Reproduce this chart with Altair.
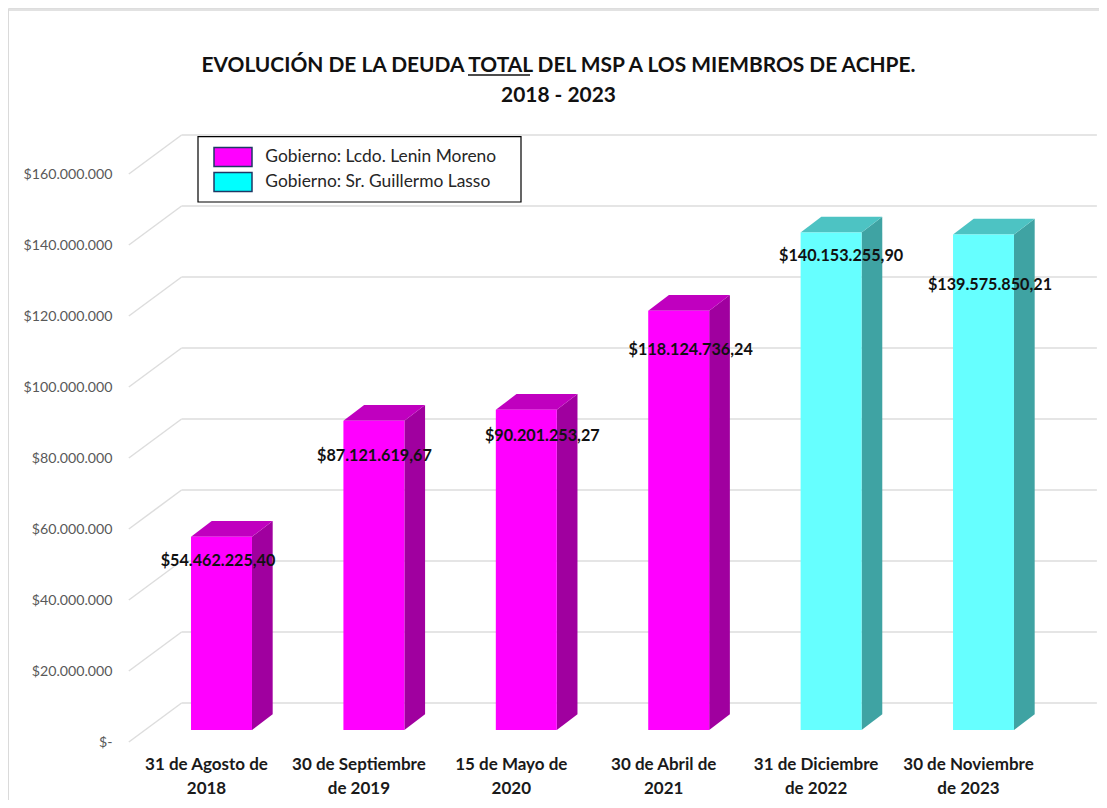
import json
import altair as alt
import pandas as pd

# ---- data
dates = ["31 de Agosto de|2018", "30 de Septiembre|de 2019", "15 de Mayo de|2020",
         "30 de Abril de|2021", "31 de Diciembre|de 2022", "30 de Noviembre|de 2023"]
values = [54462225.40, 87121619.67, 90201253.27, 118124736.24, 140153255.90, 139575850.21]
value_labels = ["$54.462.225,40", "$87.121.619,67", "$90.201.253,27",
                "$118.124.736,24", "$140.153.255,90", "$139.575.850,21"]
governments = ["Gobierno: Lcdo. Lenin Moreno"] * 4 + ["Gobierno: Sr. Guillermo Lasso"] * 2
gov_names = ["Gobierno: Lcdo. Lenin Moreno", "Gobierno: Sr. Guillermo Lasso"]
y_ticks = [0, 20e6, 40e6, 60e6, 80e6, 100e6, 120e6, 140e6, 160e6]
y_tick_labels = ["$-", "$20.000.000", "$40.000.000", "$60.000.000", "$80.000.000",
                 "$100.000.000", "$120.000.000", "$140.000.000", "$160.000.000"]

# ---- layout (separate from the data)
W, H = 1091, 792
PX_PER_UNIT = 152.4            # px between bars
PX_PER_VALUE = 3.55 / 1e6      # px per dollar
X0_PAGE, Y0_PAGE = 221.5, 730  # first bar centre / bar base on the page
HALF = 0.2                     # half bar width (category units)
DX = 20.7 / PX_PER_UNIT        # depth of the 3-D box
DY = 15.7 / PX_PER_VALUE
WALL_DX_L, WALL_DX_R = -0.262, 5.744
FRONT_X = -0.608
WALL_DY = 27 / PX_PER_VALUE
FRONT_DY = -12 / PX_PER_VALUE
LABEL_DX = [-3.5, 0.5, 16, 12, 10, 6.5]     # px from bar centre
LABEL_DY = [24.3, 35.3, 26.2, 39.4, 23.5, 50.5]  # px below bar top

x_dom = [(8 - X0_PAGE) / PX_PER_UNIT, (8 + W - X0_PAGE) / PX_PER_UNIT]
y_dom = [(Y0_PAGE - (8 + H)) / PX_PER_VALUE, (Y0_PAGE - 8) / PX_PER_VALUE]
x_scale = alt.Scale(domain=x_dom, nice=False, zero=False)
y_scale = alt.Scale(domain=y_dom, nice=False, zero=False)

FONT = "Lato"
TOPC = ["#C000BF", "#4DC3C3"]
SIDEC = ["#A0009F", "#3FA3A3"]
FRONTC = ["#FF00FF", "#66FFFF"]
LEGC = ["#FF00FF", "#00FFFF"]

# ---- tables
bars = pd.DataFrame({
    "i": range(len(values)), "v": values, "gov": governments, "label": value_labels,
})
bars["x0"] = bars.i - HALF
bars["x1"] = bars.i + HALF
bars["zero"] = 0.0
bars["lx"] = [i + d / PX_PER_UNIT for i, d in zip(bars.i, LABEL_DX)]
bars["ly"] = [v - d / PX_PER_VALUE for v, d in zip(values, LABEL_DY)]

side_rows, top_rows = [], []
for i, v, g in zip(bars.i, values, governments):
    side_rows += [dict(i=i, gov=g, x=i + HALF, y=0.0, y2=v),
                  dict(i=i, gov=g, x=i + HALF + DX, y=DY, y2=v + DY)]
    top_rows += [dict(i=i, gov=g, x=i - HALF, y=v, y2=v),
                 dict(i=i, gov=g, x=i - HALF + DX, y=v, y2=v + DY),
                 dict(i=i, gov=g, x=i + HALF, y=v, y2=v + DY),
                 dict(i=i, gov=g, x=i + HALF + DX, y=v + DY, y2=v + DY)]
side = pd.DataFrame(side_rows)
top = pd.DataFrame(top_rows)
grid = pd.DataFrame({"t": y_ticks})
grid["wy"] = grid.t + WALL_DY
grid["fy"] = grid.t + FRONT_DY
grid["xl"] = WALL_DX_L
grid["xr"] = WALL_DX_R
grid["xf"] = FRONT_X

GRID = "#DDDDDD"
tick_expr = json.dumps(y_tick_labels) + "[round(datum.value/20000000)]"
date_expr = "split(" + json.dumps(dates) + "[datum.value],'|')"

x_axis = alt.Axis(values=list(range(6)), labelExpr=date_expr, title=None, grid=False,
                  domain=False, ticks=False, labelFont=FONT, labelFontSize=17,
                  labelFontWeight="bold", labelColor="#1a1a1a", labelOffset=-15.5,
                  offset=-(8 + H - 756.5), labelPadding=0, labelBaseline="top", labelLineHeight=24,
                  labelAngle=0, labelFlush=False, labelOverlap=False)
y_axis = alt.Axis(values=y_ticks, labelExpr=tick_expr, title=None, grid=False,
                  domain=False, ticks=False, labelFont=FONT, labelFontSize=14.2,
                  labelColor="#595959", labelOffset=12.5, offset=-104, labelPadding=0,
                  labelOverlap=False, labelFlush=False)


def X(f):
    return alt.X(f, scale=x_scale, axis=x_axis)


def Y(f):
    return alt.Y(f, scale=y_scale, axis=y_axis)


wall = alt.Chart(grid).mark_rule(color=GRID, strokeWidth=1.5).encode(
    x=X("xl:Q"), x2="xr:Q", y=Y("wy:Q"),
)
diag = alt.Chart(grid).mark_rule(color=GRID, strokeWidth=1.5).encode(
    x=X("xf:Q"), x2="xl:Q", y=Y("fy:Q"), y2="wy:Q",
)

border = alt.Chart(grid.head(1)).mark_rule(color="#D9D9D9", strokeWidth=1.5).encode(
    x=alt.value(0), x2=alt.value(W), y=alt.value(2))
border2 = alt.Chart(grid.head(1)).mark_rule(color="#D9D9D9", strokeWidth=1.5).encode(
    x=alt.value(0), y=alt.value(2), y2=alt.value(H))

frame = alt.Chart(grid.head(1)).mark_rect(fill="white", stroke="black", strokeWidth=1.2).encode(
    x=alt.value(190), x2=alt.value(513), y=alt.value(128.7), y2=alt.value(194))

underline = alt.Chart(grid.head(1)).mark_rule(color="#111111", strokeWidth=1.5).encode(
    x=alt.value(460), x2=alt.value(522), y=alt.value(67))


def gov_color(rng, legend=None):
    return alt.Color("gov:N", scale=alt.Scale(domain=gov_names, range=rng), legend=legend)


legend_layer = alt.Chart(bars).transform_filter("datum.v < 0").mark_square(
    filled=True, stroke="#1F3864", strokeWidth=3, opacity=1).encode(
    x=X("i:Q"), y=Y("v:Q"),
    color=gov_color(LEGC, alt.Legend(
        orient="none", legendX=214.5, legendY=138.5, title=None,
        symbolType="M-2,-1H2V1H-2Z", symbolSize=361,
        labelFont=FONT, labelFontSize=17.4, labelColor="#262626",
        labelOffset=21.8, rowPadding=0, padding=0, labelLimit=400)),
)

side_layer = alt.Chart(side).mark_area(opacity=1).encode(
    x=X("x:Q"), y=Y("y:Q"), y2="y2:Q", detail="i:N", color=gov_color(SIDEC),
)
top_layer = alt.Chart(top).mark_area(opacity=1).encode(
    x=X("x:Q"), y=Y("y:Q"), y2="y2:Q", detail="i:N", color=gov_color(TOPC),
)
front_layer = alt.Chart(bars).mark_rect(opacity=1).encode(
    x=X("x0:Q"), x2="x1:Q", y=Y("zero:Q"), y2="v:Q", color=gov_color(FRONTC),
)
labels = alt.Chart(bars).mark_text(font=FONT, fontSize=16.2, fontWeight="bold",
                                   color="#111111", align="center", baseline="middle").encode(
    x=X("lx:Q"), y=Y("ly:Q"), text="label:N",
)

chart = alt.layer(border, border2, wall, diag, frame, underline, side_layer, top_layer,
                  front_layer, labels, legend_layer).resolve_scale(
    color="independent"
).properties(
    width=W, height=H, padding=0,
    autosize=alt.AutoSizeParams(type="none"),
    title=alt.TitleParams(
        text=["EVOLUCIÓN DE LA DEUDA TOTAL DEL MSP A LOS MIEMBROS DE ACHPE.", "2018 - 2023"],
        font=FONT, fontSize=20.9, fontWeight="bold", color="#111111",
        anchor="middle", frame="group", offset=-97.5, lineHeight=30, dx=5,
    ),
).configure_view(stroke=None).configure(background="white")

chart.save("out.html", embed_options={"renderer": "svg", "actions": False})
